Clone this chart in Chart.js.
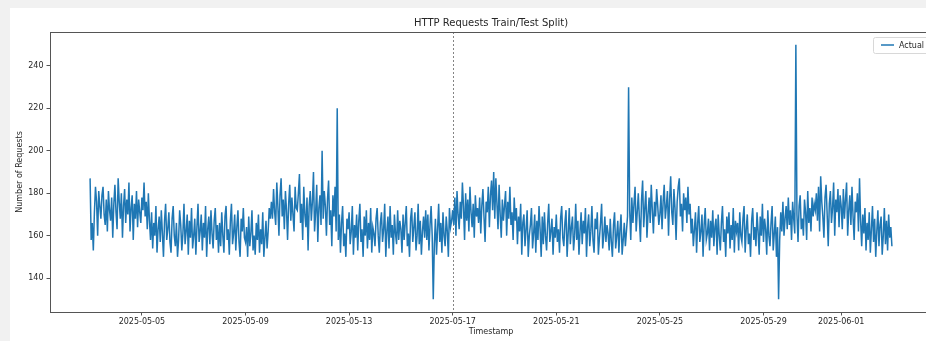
<!DOCTYPE html>
<html>
<head>
<meta charset="utf-8">
<title>HTTP Requests Train/Test Split</title>
<script src="https://cdn.jsdelivr.net/npm/chart.js@4/dist/chart.umd.min.js"></script>
<style>
  html, body { margin: 0; padding: 0; background: #f1f1f1; width: 926px; height: 341px; overflow: hidden; }
  #card { position: absolute; left: 10px; top: 8px; width: 930px; height: 340px; background: #ffffff; }
  #wrap { position: absolute; left: 0; top: 0; width: 940px; height: 341px; }
  canvas { display: block; }
</style>
</head>
<body>
<div id="card"></div>
<div id="wrap"><canvas id="chart" width="940" height="341"></canvas></div>
<script>
// Hourly request counts, one line per day starting 2025-05-03 00:00 UTC
const startTime = '2025-05-03T00:00:00Z';
const requests = [
  187,158,166,153,171,183,176,160,181,174,168,179,183,170,165,177,162,181,172,167,178,159,175,184,
  171,163,187,176,168,180,159,174,182,166,177,170,185,162,173,179,158,175,168,181,164,177,171,166,
  178,172,185,169,176,163,180,167,158,171,154,166,160,174,152,163,169,157,172,161,150,167,175,158,
  163,171,157,152,168,174,160,155,166,150,158,172,165,153,161,175,156,162,170,151,167,159,173,154,
  160,168,151,164,175,157,162,170,153,166,159,174,150,163,169,156,172,161,154,167,173,158,165,152,
  166,155,171,160,152,169,174,158,163,151,167,175,156,161,170,153,164,172,157,150,168,162,173,159,
  157,164,150,169,155,161,172,153,160,151,166,158,170,152,163,156,171,150,159,167,154,162,173,168,
  176,168,182,171,165,185,174,160,179,187,169,177,163,181,172,158,175,184,167,178,170,162,183,173,
  172,180,189,166,175,158,183,170,164,178,153,174,181,167,176,190,162,171,184,157,173,179,165,200,
  168,181,174,160,177,186,165,172,155,179,169,183,162,220,158,170,152,166,174,155,161,150,168,163,
  171,156,162,174,151,165,159,170,153,167,175,157,163,150,169,160,172,154,166,158,173,152,164,161,
  155,168,173,160,152,166,171,157,163,175,150,162,169,154,174,159,165,151,170,161,156,172,158,167,
  163,152,170,158,166,174,155,161,150,168,173,157,164,171,153,160,175,156,167,151,162,169,159,172,
  158,170,153,165,174,160,130,156,168,151,163,175,157,166,152,171,160,155,169,162,150,173,164,167,
  172,165,178,160,181,170,163,176,168,185,174,158,180,167,177,162,183,171,164,175,159,179,169,173,
  166,178,161,174,182,169,157,176,171,183,164,179,186,172,190,168,187,175,163,184,170,159,177,167,
  174,181,160,176,168,183,165,171,158,178,167,173,156,169,162,175,151,166,170,155,163,172,150,160,
  165,173,154,161,170,152,167,158,174,163,150,169,156,171,160,153,166,175,157,162,168,151,164,159,
  170,157,163,152,168,174,159,155,166,172,150,161,173,156,164,169,153,160,175,158,167,151,162,171,
  156,167,161,173,150,164,170,155,162,174,158,152,168,163,171,151,159,166,175,154,160,169,157,165,
  161,153,168,157,150,165,171,154,160,167,152,163,170,151,158,166,155,162,169,230,172,158,178,166,
  175,183,162,171,180,168,157,177,186,164,173,181,159,170,178,166,184,172,161,176,169,182,174,165,
  170,179,163,176,184,168,174,181,160,177,188,171,165,182,173,158,176,183,187,169,175,162,180,172,
  178,166,183,170,175,161,168,155,163,171,152,166,174,157,162,170,150,165,173,158,161,168,153,167,
  159,172,155,164,168,151,170,160,153,166,174,157,163,150,169,161,171,154,165,158,173,152,167,162,
  166,153,171,160,157,168,174,152,163,170,156,161,150,167,173,158,164,155,171,162,151,169,160,175,
  157,168,163,151,172,160,155,166,174,153,161,169,150,164,130,158,171,162,176,160,168,174,163,178,
  165,172,158,176,168,161,250,170,157,174,179,163,168,160,177,171,158,181,166,173,162,178,169,175,
  172,180,167,183,162,188,176,169,159,178,184,170,155,175,181,166,173,185,160,177,171,182,164,179,
  174,163,182,168,177,185,160,172,179,165,183,169,158,176,171,180,162,187,167,155,170,161,173,153,
  166,158,171,152,163,174,157,168,150,162,172,155,165,169,151,160,173,156,167,153,170,159,164,155
];
const xTickLabels = ['2025-05-05','2025-05-09','2025-05-13','2025-05-17','2025-05-21','2025-05-25','2025-05-29','2025-06-01'];
const yTickValues = [140, 160, 180, 200, 220, 240];
const splitDate = '2025-05-17';
const seriesLabel = 'Actual';
const chartTitle = 'HTTP Requests Train/Test Split)';

const HOUR = 3600 * 1000;
const t0 = Date.parse(startTime);
const points = requests.map((v, i) => ({ x: t0 + i * HOUR, y: v }));

// Axis limits padded by 5% of the data span on each side
const xFirst = points[0].x, xLast = points[points.length - 1].x;
const xPad = (xLast - xFirst) * 0.05;
const yMinData = Math.min(...requests), yMaxData = Math.max(...requests);
const yPad = (yMaxData - yMinData) * 0.05;

const FONT = 'DejaVu Sans';
const TEXT = '#262626';
const LINE_BLUE = '#1f77b4';

const decorations = {
  id: 'decorations',
  beforeDatasetsDraw(chart) {
    const { ctx, chartArea: a, scales } = chart;
    const xs = Math.round(scales.x.getPixelForValue(Date.parse(splitDate + 'T00:00:00Z'))) + 0.5;
    ctx.save();
    ctx.strokeStyle = 'rgba(110,110,110,0.85)';
    ctx.lineWidth = 1;
    ctx.setLineDash([2, 2]);
    ctx.beginPath();
    ctx.moveTo(xs, a.top);
    ctx.lineTo(xs, a.bottom);
    ctx.stroke();
    ctx.restore();
  },
  afterDraw(chart) {
    const { ctx, chartArea: a } = chart;
    ctx.save();
    // axes frame
    ctx.strokeStyle = '#555';
    ctx.lineWidth = 1;
    ctx.strokeRect(Math.round(a.left) + 0.5, Math.round(a.top) + 0.5,
                   Math.round(a.right - a.left), Math.round(a.bottom - a.top));
    // title
    ctx.fillStyle = TEXT;
    ctx.font = '10px "' + FONT + '"';
    ctx.textAlign = 'center';
    ctx.textBaseline = 'middle';
    ctx.fillText(chartTitle, (a.left + a.right) / 2, a.top - 8.5);
    // legend box in the upper right corner
    const bx = a.right - 59, by = a.top + 5, bw = 56, bh = 16;
    ctx.fillStyle = 'rgba(255,255,255,0.85)';
    ctx.strokeStyle = '#d8d8d8';
    ctx.beginPath();
    ctx.roundRect(bx + 0.5, by + 0.5, bw, bh, 2);
    ctx.fill();
    ctx.stroke();
    ctx.strokeStyle = LINE_BLUE;
    ctx.lineWidth = 1.5;
    ctx.beginPath();
    ctx.moveTo(bx + 8, by + 8);
    ctx.lineTo(bx + 21, by + 8);
    ctx.stroke();
    ctx.fillStyle = TEXT;
    ctx.font = '8px "' + FONT + '"';
    ctx.textAlign = 'left';
    ctx.fillText(seriesLabel, bx + 26, by + 8.5);
    ctx.restore();
  }
};

new Chart(document.getElementById('chart'), {
  type: 'line',
  data: {
    datasets: [{
      label: seriesLabel,
      data: points,
      borderColor: LINE_BLUE,
      backgroundColor: LINE_BLUE,
      borderWidth: 1.5,
      pointRadius: 0,
      tension: 0,
      fill: false
    }]
  },
  options: {
    responsive: false,
    animation: false,
    parsing: false,
    normalized: true,
    events: [],
    layout: { padding: { top: 32, right: 8, left: 0, bottom: 0 } },
    plugins: {
      legend: { display: false },
      title: { display: false },
      tooltip: { enabled: false }
    },
    scales: {
      x: {
        type: 'linear',
        min: xFirst - xPad,
        max: xLast + xPad,
        afterBuildTicks(scale) {
          scale.ticks = xTickLabels.map(s => ({ value: Date.parse(s + 'T00:00:00Z') }));
        },
        afterFit(scale) { scale.height = 29; },
        border: { display: false },
        grid: { drawOnChartArea: false, drawTicks: true, tickLength: 3.5, color: '#555' },
        ticks: {
          autoSkip: false,
          maxRotation: 0,
          padding: 2,
          color: TEXT,
          font: { family: FONT, size: 8 },
          callback: (v) => new Date(v).toISOString().slice(0, 10)
        },
        title: {
          display: true,
          text: 'Timestamp',
          color: TEXT,
          font: { family: FONT, size: 8 },
          padding: { top: 0, bottom: 4 }
        }
      },
      y: {
        type: 'linear',
        min: yMinData - yPad,
        max: yMaxData + yPad,
        afterBuildTicks(scale) {
          scale.ticks = yTickValues.map(v => ({ value: v }));
        },
        afterFit(scale) { scale.width = 50; },
        border: { display: false },
        grid: { drawOnChartArea: false, drawTicks: true, tickLength: 3.5, color: '#555' },
        ticks: {
          padding: 3,
          color: TEXT,
          font: { family: FONT, size: 8 }
        },
        title: {
          display: true,
          text: 'Number of Requests',
          color: TEXT,
          font: { family: FONT, size: 8 },
          padding: { top: 15, bottom: 0 }
        }
      }
    }
  },
  plugins: [decorations]
});
</script>
</body>
</html>
